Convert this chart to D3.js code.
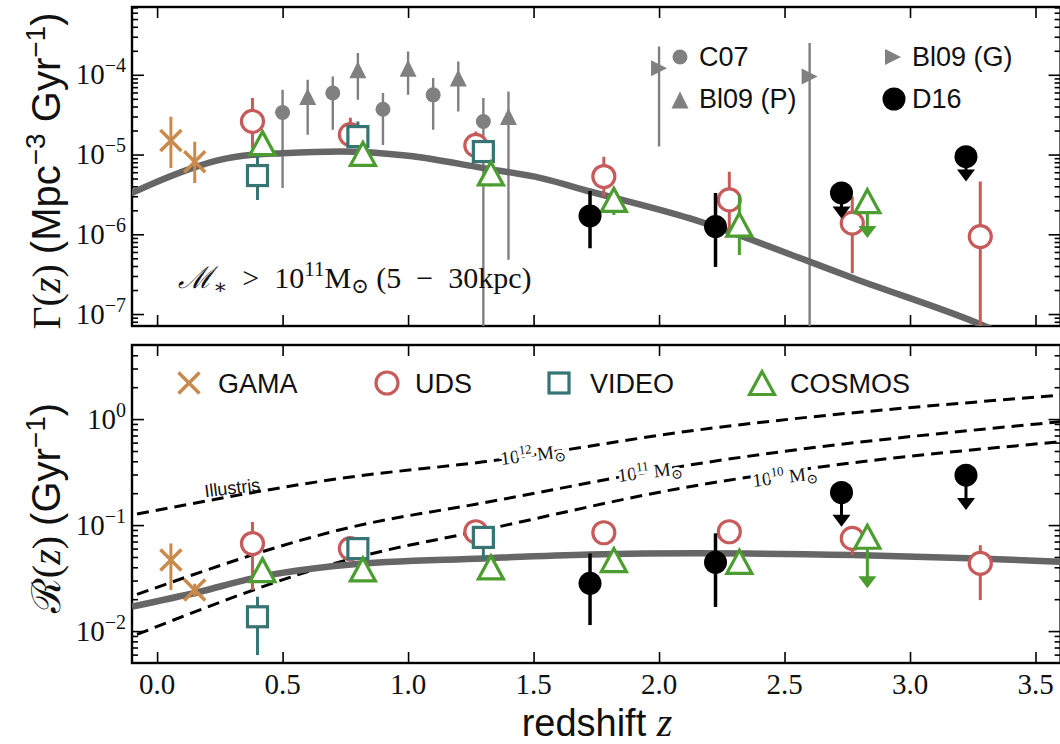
<!DOCTYPE html>
<html><head><meta charset="utf-8">
<script src="https://cdn.jsdelivr.net/npm/d3@7/dist/d3.min.js"></script>
<style>body{margin:0;background:#fff}</style>
</head><body>
<svg id="c" width="1060" height="744"></svg>
<script>
// ---------- ticks ----------
const xTicks = [0,0.5,1.0,1.5,2.0,2.5,3.0,3.5];
const xTickLabels = ["0.0","0.5","1.0","1.5","2.0","2.5","3.0","3.5"];
const topYTicks = [1e-4,1e-5,1e-6,1e-7];
const topYExp = ["−4","−5","−6","−7"];
const botYTicks = [1,0.1,0.01];
const botYExp = ["0","−1","−2"];

// ---------- top panel: merger rate density ----------
const topCurveZ = [-0.1,0,0.17,0.25,0.38,0.5,0.73,1.0,1.3,1.53,1.725,2.12,2.6,2.775,3.27,3.32];
const topCurveV = [3.31e-6,4.57e-6,7.28e-6,8.57e-6,9.91e-6,1.04e-5,1.09e-5,9.64e-6,6.75e-6,5.06e-6,3.44e-6,1.59e-6,4.54e-7,2.81e-7,7.67e-8,6.6e-8];

const topGamaZ = [0.055,0.15], topGamaV = [1.5e-5,8.1e-6], topGamaLo = [6.8e-6,4.4e-6], topGamaHi = [2.97e-5,1.45e-5];
const topUdsZ = [0.38,0.77,1.27,1.78,2.28,2.77,3.28];
const topUdsV = [2.6e-5,1.78e-5,1.3e-5,5.3e-6,2.7e-6,1.38e-6,9.35e-7];
const topUdsLo = [1.2e-5,1.2e-5,8.5e-6,2.97e-6,9.3e-7,3.25e-7,1e-9];
const topUdsHi = [5.1e-5,2.9e-5,1.94e-5,9.4e-6,6.1e-6,2.97e-6,4.6e-6];
const topVideoZ = [0.40,0.80,1.30], topVideoV = [5.45e-6,1.68e-5,1.09e-5], topVideoLo = [2.7e-6,1.2e-5,8e-6], topVideoHi = [9.5e-6,2.6e-5,1.5e-5];
const topCosmosZ = [0.42,0.82,1.33,1.82,2.32];
const topCosmosV = [1.39e-5,1.02e-5,5.8e-6,2.7e-6,1.32e-6];
const topCosmosLo = [9.5e-6,8e-6,4.0e-6,1.75e-6,5.5e-7];
const topCosmosHi = [1.9e-5,1.3e-5,7.5e-6,3.6e-6,3.1e-6];
const topCosmosUlZ = [2.83], topCosmosUlV = [2.6e-6], topCosmosUlTip = [9e-7];
const topD16Z = [1.725,2.225], topD16V = [1.7e-6,1.25e-6], topD16Lo = [6.7e-7,3.9e-7], topD16Hi = [3.5e-6,3.3e-6];
const topD16UlZ = [2.727,3.223], topD16UlV = [3.3e-6,9.4e-6], topD16UlTip = [1.58e-6,4.6e-6];
const c07Z = [0.5,0.7,0.9,1.1,1.3];
const c07V = [3.37e-5,5.9e-5,3.7e-5,5.6e-5,2.6e-5];
const c07Lo = [3.8e-6,2.04e-5,1.32e-5,2.04e-5,1e-9];
const c07Hi = [6.5e-5,9.5e-5,5.9e-5,9.1e-5,5.1e-5];
const bl09pZ = [0.6,0.8,1.0,1.2,1.4];
const bl09pV = [5.34e-5,1.156e-4,1.21e-4,9.1e-5,3.0e-5];
const bl09pLo = [1.77e-5,4.85e-5,5.6e-5,3.47e-5,4.78e-7];
const bl09pHi = [8.65e-5,1.87e-4,1.96e-4,1.47e-4,6.17e-5];
const bl09gZ = [2.0,2.6], bl09gV = [1.21e-4,9.5e-5], bl09gLo = [1.26e-5,1e-9], bl09gHi = [2.26e-4,2.5e-4];

// ---------- bottom panel: merger rate per galaxy ----------
const botCurveZ = [-0.1,0.17,0.38,0.75,1.3,1.725,2.15,2.775,3.27,3.6];
const botCurveV = [0.0170,0.0235,0.0314,0.0420,0.0485,0.0528,0.0541,0.0521,0.0485,0.0451];
const ill12Z = [-0.08,0.78,1.3,2.15,3.6], ill12V = [0.127,0.286,0.395,0.787,1.68];
const ill11Z = [-0.08,0.78,1.3,2.12,3.6], ill11V = [0.0222,0.0964,0.162,0.368,0.944];
const ill10Z = [-0.08,0.78,1.3,2.12,2.65,3.6], ill10V = [0.0093,0.0485,0.0897,0.23,0.355,0.611];

const botGamaZ = [0.055,0.15], botGamaV = [0.0468,0.0244], botGamaLo = [0.0244,0.021], botGamaHi = [0.0671,0.028];
const botUdsZ = [0.38,0.77,1.27,1.78,2.28,2.77,3.28];
const botUdsV = [0.067,0.060,0.0865,0.0847,0.0865,0.0748,0.0435];
const botUdsLo = [0.0244,0.055,0.079,0.077,0.079,0.052,0.0196];
const botUdsHi = [0.107,0.066,0.095,0.093,0.095,0.082,0.0647];
const botVideoZ = [0.40,0.80,1.30], botVideoV = [0.01365,0.060,0.0765], botVideoLo = [0.00594,0.055,0.0468], botVideoHi = [0.0211,0.066,0.083];
const botCosmosZ = [0.42,0.82,1.33,1.82,2.32];
const botCosmosV = [0.0376,0.0382,0.0399,0.0468,0.045];
const botCosmosLo = [0.034,0.035,0.036,0.043,0.041];
const botCosmosHi = [0.041,0.042,0.044,0.051,0.049];
const botCosmosUlZ = [2.83], botCosmosUlV = [0.0776], botCosmosUlTip = [0.0253];
const botD16Z = [1.725,2.225], botD16V = [0.0282,0.0445], botD16Lo = [0.0114,0.0169], botD16Hi = [0.054,0.0836];
const botD16UlZ = [2.727,3.223], botD16UlV = [0.203,0.296], botD16UlTip = [0.0964,0.1386];

// ---------- styling ----------
const C = {gama:"#c98a4b", uds:"#c75b5b", video:"#377474", cosmos:"#4b9d2f", d16:"#000", gray:"#808080", curve:"#666"};
const SERIF = "'Liberation Serif','DejaVu Serif',serif";
const SANS = "'Liberation Sans',Arial,sans-serif";

const svg = d3.select("#c");
const X = d3.scaleLinear().domain([-0.1,3.6]).range([132,1060.6]);
const Yt = d3.scaleLog().domain([Math.pow(10,-7.15),Math.pow(10,-3.15)]).range([326,7]);
const Yb = d3.scaleLog().domain([0.005,5]).range([663,345]);

const defs = svg.append("defs");
function clip(id, y0, y1){
  defs.append("clipPath").attr("id",id).append("rect")
    .attr("x",132).attr("y",y0).attr("width",1060.6-132).attr("height",y1-y0);
}
clip("ct",7,326); clip("cb",345,663);

function mk(g, type, x, y, color, opt={}){
  let p;
  if(type==="circle"){ const r=opt.r||11; p=g.append("circle").attr("cx",x).attr("cy",y).attr("r",r); }
  else if(type==="square"){ const s=opt.s||10; p=g.append("rect").attr("x",x-s).attr("y",y-s).attr("width",2*s).attr("height",2*s); }
  else if(type==="tri"){ const w=opt.w||12.5,h=opt.h||11.5; p=g.append("path").attr("d",`M${x},${y-h}L${x+w},${y+h}L${x-w},${y+h}Z`); }
  else if(type==="triR"){ const w=opt.w||8,h=opt.h||8; p=g.append("path").attr("d",`M${x+h},${y}L${x-h},${y-w}L${x-h},${y+w}Z`); }
  else if(type==="x"){ const a=opt.a||10; p=g.append("path").attr("d",`M${x-a},${y-a}L${x+a},${y+a}M${x-a},${y+a}L${x+a},${y-a}`); }
  if(opt.filled){ p.attr("fill",color).attr("stroke","none"); }
  else { p.attr("fill", type==="x"?"none":"#fff").attr("stroke",color).attr("stroke-width",opt.sw||3.2); }
  return p;
}

function series(g, Y, zs, vs, lo, hi, type, color, opt={}){
  zs.forEach((z,i)=>{
    if(lo && hi){
      g.append("line").attr("x1",X(z)).attr("x2",X(z))
        .attr("y1",Y(Math.max(lo[i],1e-12))).attr("y2",Y(hi[i]))
        .attr("stroke",color).attr("stroke-width",opt.ew||3);
    }
  });
  zs.forEach((z,i)=> mk(g,type,X(z),Y(vs[i]),color,opt));
}
function upper(g, Y, zs, vs, tips, type, color, opt={}){
  zs.forEach((z,i)=>{
    const x=X(z), y0=Y(vs[i]), y1=Y(tips[i]);
    g.append("line").attr("x1",x).attr("x2",x).attr("y1",y0).attr("y2",y1-4)
      .attr("stroke",color).attr("stroke-width",3);
    g.append("path").attr("d",`M${x-9},${y1-12}L${x+9},${y1-12}L${x},${y1}Z`).attr("fill",color);
    mk(g,type,x,y0,color,opt);
  });
}
const lineGen = (Y)=> d3.line().x(d=>X(d[0])).y(d=>Y(d[1])).curve(d3.curveMonotoneX);

function axes(y0,y1,Y,majors,exps){
  svg.append("rect").attr("x",132).attr("y",y0).attr("width",1060.6-132).attr("height",y1-y0)
    .attr("fill","none").attr("stroke","#000").attr("stroke-width",2.4);
  const ax = svg.append("g");
  ax.append("g").attr("transform",`translate(0,${y1})`).call(d3.axisBottom(X).tickValues(xTicks).tickSizeInner(-11).tickSizeOuter(0).tickFormat(""));
  ax.append("g").attr("transform",`translate(0,${y0})`).call(d3.axisTop(X).tickValues(xTicks).tickSizeInner(-11).tickSizeOuter(0).tickFormat(""));
  ax.append("g").attr("transform",`translate(132,0)`).call(d3.axisLeft(Y).tickValues(majors).tickSizeInner(-12).tickSizeOuter(0).tickFormat(""));
  ax.append("g").attr("transform",`translate(1060.6,0)`).call(d3.axisRight(Y).tickValues(majors).tickSizeInner(-12).tickSizeOuter(0).tickFormat(""));
  const [lo,hi]=Y.domain(); const minors=[];
  for(let d=Math.floor(Math.log10(lo));d<=Math.ceil(Math.log10(hi));d++) for(let k=2;k<=9;k++){const v=k*Math.pow(10,d); if(v>lo&&v<hi) minors.push(v);}
  ax.append("g").attr("transform",`translate(132,0)`).call(d3.axisLeft(Y).tickValues(minors).tickSizeInner(-6).tickSizeOuter(0).tickFormat(""));
  ax.append("g").attr("transform",`translate(1060.6,0)`).call(d3.axisRight(Y).tickValues(minors).tickSizeInner(-6).tickSizeOuter(0).tickFormat(""));
  ax.selectAll(".domain").remove();
  ax.selectAll(".tick line").attr("stroke","#000").attr("stroke-width",1.6);
  majors.forEach((v,i)=>{
    const t=svg.append("text").attr("x",126).attr("y",Y(v)+9.5).attr("text-anchor","end")
      .attr("font-family",SERIF).attr("font-size",29).attr("fill","#111");
    t.append("tspan").text("10");
    t.append("tspan").attr("dy",-12).attr("font-size",20).text(exps[i]);
  });
}

// ---------- TOP PANEL ----------
axes(7,326,Yt,topYTicks,topYExp);
const gt = svg.append("g").attr("clip-path","url(#ct)");
series(gt,Yt,c07Z,c07V,c07Lo,c07Hi,"circle",C.gray,{filled:true,r:7.5,ew:2.4});
series(gt,Yt,bl09pZ,bl09pV,bl09pLo,bl09pHi,"tri",C.gray,{filled:true,w:8.5,h:8.5,ew:2.4});
series(gt,Yt,bl09gZ,bl09gV,bl09gLo,bl09gHi,"triR",C.gray,{filled:true,w:8,h:8,ew:2.4});
gt.append("path").datum(topCurveZ.map((z,i)=>[z,topCurveV[i]])).attr("d",lineGen(Yt))
  .attr("fill","none").attr("stroke",C.curve).attr("stroke-width",6.5).attr("stroke-linecap","round");
series(gt,Yt,topGamaZ,topGamaV,topGamaLo,topGamaHi,"x",C.gama,{a:10.5,sw:3.5});
series(gt,Yt,topUdsZ,topUdsV,topUdsLo,topUdsHi,"circle",C.uds,{r:11});
series(gt,Yt,topVideoZ,topVideoV,topVideoLo,topVideoHi,"square",C.video,{s:10});
series(gt,Yt,topCosmosZ,topCosmosV,topCosmosLo,topCosmosHi,"tri",C.cosmos,{});
upper(gt,Yt,topCosmosUlZ,topCosmosUlV,topCosmosUlTip,"tri",C.cosmos,{});
series(gt,Yt,topD16Z,topD16V,topD16Lo,topD16Hi,"circle",C.d16,{filled:true,r:11.5,ew:3.5});
upper(gt,Yt,topD16UlZ,topD16UlV,topD16UlTip,"circle",C.d16,{filled:true,r:11.5});

// top legend
const lg = svg.append("g");
mk(lg,"circle",680,57,C.gray,{filled:true,r:7.5});
mk(lg,"tri",680,100,C.gray,{filled:true,w:8.5,h:8.5});
mk(lg,"triR",893,57,C.gray,{filled:true,w:8,h:8});
mk(lg,"circle",894,99,C.d16,{filled:true,r:11.5});
[["C07",699,66],["Bl09 (P)",699,108],["Bl09 (G)",912,66],["D16",912,108]].forEach(d=>{
  lg.append("text").attr("x",d[1]).attr("y",d[2]).attr("font-family",SANS).attr("font-size",27).attr("fill","#111").text(d[0]);
});
// annotation
{
  const t = svg.append("text").attr("x",178).attr("y",288).attr("font-family",SERIF).attr("font-size",30).attr("fill","#111");
  t.append("tspan").attr("font-style","italic").text("ℳ");
  t.append("tspan").attr("dy",6).attr("font-size",21).text("∗");
  t.append("tspan").attr("dy",-6).text("\u2002>\u200210");
  t.append("tspan").attr("dy",-12).attr("font-size",21).text("11");
  t.append("tspan").attr("dy",12).text("M");
  t.append("tspan").attr("dy",5).attr("font-size",21).text("⊙");
  t.append("tspan").attr("dy",-5).text(" (5\u2002−\u200230kpc)");
}

// ---------- BOTTOM PANEL ----------
axes(345,663,Yb,botYTicks,botYExp);
const gb = svg.append("g").attr("clip-path","url(#cb)");
[[ill12Z,ill12V],[ill11Z,ill11V],[ill10Z,ill10V]].forEach(([zs,vs])=>{
  gb.append("path").datum(zs.map((z,i)=>[z,vs[i]])).attr("d",lineGen(Yb))
    .attr("fill","none").attr("stroke","#000").attr("stroke-width",3).attr("stroke-dasharray","12,7");
});
gb.append("path").datum(botCurveZ.map((z,i)=>[z,botCurveV[i]])).attr("d",lineGen(Yb))
  .attr("fill","none").attr("stroke",C.curve).attr("stroke-width",6.5);
series(gb,Yb,botGamaZ,botGamaV,botGamaLo,botGamaHi,"x",C.gama,{a:10.5,sw:3.5});
series(gb,Yb,botUdsZ,botUdsV,botUdsLo,botUdsHi,"circle",C.uds,{r:11});
series(gb,Yb,botVideoZ,botVideoV,botVideoLo,botVideoHi,"square",C.video,{s:10});
series(gb,Yb,botCosmosZ,botCosmosV,botCosmosLo,botCosmosHi,"tri",C.cosmos,{});
upper(gb,Yb,botCosmosUlZ,botCosmosUlV,botCosmosUlTip,"tri",C.cosmos,{});
series(gb,Yb,botD16Z,botD16V,botD16Lo,botD16Hi,"circle",C.d16,{filled:true,r:11.5,ew:3.5});
upper(gb,Yb,botD16UlZ,botD16UlV,botD16UlTip,"circle",C.d16,{filled:true,r:11.5});

// line labels
function lineLabel(x,y,exp,rot){
  const t=svg.append("text").attr("transform",`translate(${x},${y}) rotate(${rot})`).attr("text-anchor","middle")
    .attr("font-family",SERIF).attr("font-size",19).attr("fill","#111")
    .attr("stroke","#fff").attr("stroke-width",6).attr("paint-order","stroke").attr("y",6);
  t.append("tspan").text("10");
  t.append("tspan").attr("dy",-8).attr("font-size",13).text(exp);
  t.append("tspan").attr("dy",8).text(" M");
  t.append("tspan").attr("dy",4).attr("font-size",14).text("⊙");
}
lineLabel(533,455,"12",-7);
lineLabel(650,472,"11",-7);
lineLabel(785,477,"10",-7);
svg.append("text").attr("transform","translate(233,494) rotate(-7)").attr("text-anchor","middle")
  .attr("font-family",SANS).attr("font-size",18).attr("fill","#111").text("Illustris");

// bottom legend
const lb = svg.append("g");
mk(lb,"x",189,383,C.gama,{a:10.5,sw:3.5});
mk(lb,"circle",387,383,C.uds,{r:11});
mk(lb,"square",559,383,C.video,{s:10});
mk(lb,"tri",762,383,C.cosmos,{});
[["GAMA",218],["UDS",415],["VIDEO",590],["COSMOS",790]].forEach(d=>{
  lb.append("text").attr("x",d[1]).attr("y",393).attr("font-family",SANS).attr("font-size",27).attr("fill","#111").text(d[0]);
});

// x tick labels
xTicks.forEach((v,i)=>{
  svg.append("text").attr("x",X(v)).attr("y",694).attr("text-anchor","middle")
    .attr("font-family",SERIF).attr("font-size",29).attr("fill","#111").text(xTickLabels[i]);
});
// x label
{
  const t=svg.append("text").attr("x",597).attr("y",736).attr("text-anchor","middle").attr("fill","#111");
  t.append("tspan").attr("font-family",SANS).attr("font-size",38).text("redshift ");
  t.append("tspan").attr("font-family",SERIF).attr("font-style","italic").attr("font-size",40).text("z");
}
// y labels
function ylab(cy, parts){
  const t=svg.append("text").attr("transform",`translate(60,${cy}) rotate(-90)`).attr("text-anchor","middle").attr("fill","#111");
  parts.forEach(p=>{
    const s=t.append("tspan").attr("font-family",p.f).attr("font-size",p.s).text(p.t);
    if(p.i) s.attr("font-style","italic");
    if(p.dy) s.attr("dy",p.dy);
  });
}
ylab(171,[
  {t:"Γ(",f:SERIF,s:40},{t:"z",f:SERIF,s:40,i:1},{t:") ",f:SERIF,s:40},
  {t:"(Mpc",f:SANS,s:40},{t:"−3",f:SANS,s:28,dy:-15},{t:" Gyr",f:SANS,s:40,dy:15},
  {t:"−1",f:SANS,s:28,dy:-15},{t:")",f:SANS,s:40,dy:15}
]);
ylab(508,[
  {t:"ℛ(",f:SERIF,s:40},{t:"z",f:SERIF,s:40,i:1},{t:") ",f:SERIF,s:40},
  {t:"(Gyr",f:SANS,s:40},{t:"−1",f:SANS,s:28,dy:-15},{t:")",f:SANS,s:40,dy:15}
]);
</script></body></html>
